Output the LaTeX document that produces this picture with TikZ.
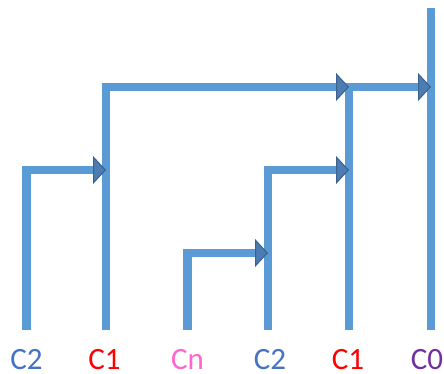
\documentclass[tikz,border=0pt]{standalone}
\usepackage{fontspec}
\setmainfont{Carlito}
\usetikzlibrary{arrows.meta}
\usetikzlibrary{positioning}

\definecolor{linkblue}{RGB}{91,155,213}
\definecolor{tipfill}{RGB}{76,124,178}
\definecolor{tipedge}{RGB}{58,98,140}
\definecolor{lblblue}{RGB}{68,114,196}
\definecolor{lblred}{RGB}{255,0,0}
\definecolor{lblpink}{RGB}{255,102,204}
\definecolor{lblpurple}{RGB}{112,48,160}

\tikzset{
  trunk/.style={draw=linkblue,line width=8.5pt},
  link/.style={trunk,-{Triangle[length=13pt,width=28pt,line width=1pt,fill=tipfill,color=tipedge]}},
  lbl/.style={font=\fontsize{31}{32}\selectfont,anchor=base,inner sep=0pt}
}

\begin{document}
\begin{tikzpicture}[x=1pt,y=-1pt]
\useasboundingbox (0,0) rectangle (444,374);

% bottom ends of the lines
\coordinate (b1) at (26.5,330);
\coordinate (b2) at (106,330);
\coordinate (b3) at (187.5,330);
\coordinate (b4) at (268,330);
\coordinate (b5) at (349,330);
\coordinate (b6) at (431,330);

% junctions
\coordinate (ja) at (106,170);
\coordinate (jb) at (349,87);
\coordinate (jc) at (431,87);
\coordinate (jd) at (349,170);
\coordinate (je) at (268,253);
\coordinate (top) at (431,8);

% labels
\node[lbl,text=lblblue] (c2a) at (26.5,369) {C2};
\node[lbl,text=lblred] (c1a) at (104.5,369) {C1};
\node[lbl,text=lblpink] (cn) at (187.5,369) {Cn};
\node[lbl,text=lblblue] (c2b) at (270,369) {C2};
\node[lbl,text=lblred] (c1b) at (348,369) {C1};
\node[lbl,text=lblpurple] (c0) at (427,369) {C0};

\draw[trunk] (b6) -- (top);
\draw[link] (b5) |- (jc);
\draw[link] (b2) |- (jb);
\draw[link] (b4) |- (jd);
\draw[link] (b3) |- (je);
\draw[link] (b1) |- (ja);

\end{tikzpicture}
\end{document}
